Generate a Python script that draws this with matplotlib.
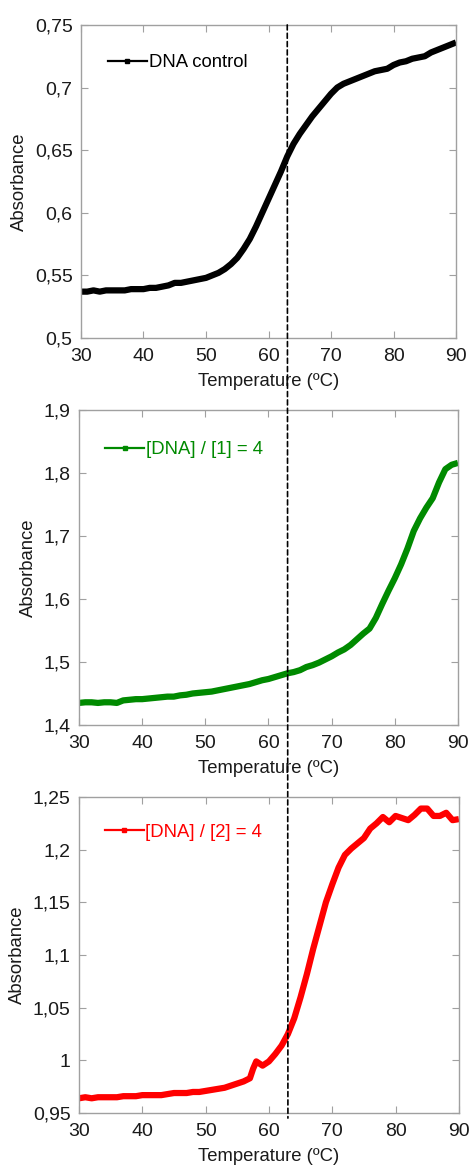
import numpy as np
import matplotlib
matplotlib.use("Agg")
import matplotlib.pyplot as plt
from matplotlib.lines import Line2D
from matplotlib.patches import ConnectionPatch
from matplotlib.ticker import FuncFormatter, MultipleLocator

plt.rcParams['font.family'] = ['Liberation Sans', 'DejaVu Sans']

# melting curves, absorbance vs temperature (ºC)
temp_ctrl = list(range(30, 91))
abs_ctrl = [0.537, 0.537, 0.538, 0.537, 0.538, 0.538, 0.538, 0.538, 0.539, 0.539,
            0.539, 0.540, 0.540, 0.541, 0.542, 0.544, 0.544, 0.545, 0.546, 0.547,
            0.548, 0.550, 0.552, 0.555, 0.559, 0.564, 0.571, 0.579, 0.589, 0.600,
            0.611, 0.622, 0.633, 0.645, 0.655, 0.663, 0.670, 0.677, 0.683, 0.689,
            0.695, 0.700, 0.703, 0.705, 0.707, 0.709, 0.711, 0.713, 0.714, 0.715,
            0.718, 0.720, 0.721, 0.723, 0.724, 0.725, 0.728, 0.730, 0.732, 0.734,
            0.736]

temp_1 = list(range(30, 91))
abs_1 = [1.435, 1.436, 1.436, 1.435, 1.436, 1.436, 1.435, 1.439, 1.440, 1.441,
         1.441, 1.442, 1.443, 1.444, 1.445, 1.445, 1.447, 1.448, 1.450, 1.451,
         1.452, 1.453, 1.455, 1.457, 1.459, 1.461, 1.463, 1.465, 1.468, 1.471,
         1.473, 1.476, 1.479, 1.482, 1.484, 1.487, 1.492, 1.495, 1.499, 1.504,
         1.509, 1.515, 1.520, 1.527, 1.536, 1.545, 1.553, 1.570, 1.592, 1.613,
         1.633, 1.655, 1.680, 1.708, 1.728, 1.745, 1.760, 1.785, 1.806, 1.813,
         1.816]

temp_2 = list(range(30, 58)) + [57.5, 58, 58.5] + list(range(59, 91))
abs_2 = [0.964, 0.965, 0.964, 0.965, 0.965, 0.965, 0.965, 0.966, 0.966, 0.966,
         0.967, 0.967, 0.967, 0.967, 0.968, 0.969, 0.969, 0.969, 0.970, 0.970,
         0.971, 0.972, 0.973, 0.974, 0.976, 0.978, 0.980, 0.983,
         0.992, 0.999, 0.997,
         0.995, 0.999, 1.006, 1.014, 1.025, 1.040, 1.060, 1.082, 1.106, 1.128,
         1.150, 1.167, 1.183, 1.195, 1.201, 1.206, 1.211, 1.220, 1.225, 1.231,
         1.226, 1.232, 1.230, 1.228, 1.233, 1.239, 1.239, 1.232, 1.232, 1.235,
         1.228, 1.229]

panels = [
    (temp_ctrl, abs_ctrl, 'black', 'DNA control', (0.5, 0.75), 0.05),
    (temp_1, abs_1, '#008a00', '[DNA] / [1] = 4', (1.4, 1.9), 0.1),
    (temp_2, abs_2, '#ff0000', '[DNA] / [2] = 4', (0.95, 1.25), 0.05),
]
t_melt = 63

rects = [[0.1727, 0.7099, 0.7996, 0.2687],
         [0.1684, 0.3777, 0.8081, 0.2704],
         [0.1684, 0.0446, 0.8100, 0.2713]]
leg_pos = [(0.072, 0.879), (0.069, 0.873), (0.068, 0.889)]

comma = FuncFormatter(lambda v, p: f'{round(v, 3):g}'.replace('.', ','))

fig = plt.figure(figsize=(4.69, 11.65), dpi=100)
axes = []
for (t, a, col, lab, ylim, step), r, lp in zip(panels, rects, leg_pos):
    ax = fig.add_axes(r)
    ax.plot(t, a, color=col, lw=4.5, solid_joinstyle='round', solid_capstyle='butt')
    ax.set_xlim(30, 90)
    ax.set_ylim(*ylim)
    ax.xaxis.set_major_locator(MultipleLocator(10))
    ax.yaxis.set_major_locator(MultipleLocator(step))
    ax.yaxis.set_major_formatter(comma)
    ax.tick_params(direction='in', top=True, right=True, length=5, width=0.8,
                   color='#a0a0a0', labelsize=14, labelcolor='#1a1a1a')
    ax.tick_params(axis='y', pad=6)
    ax.tick_params(axis='x', pad=7)
    for s in ax.spines.values():
        s.set_color('#a0a0a0')
        s.set_linewidth(1.0)
    ax.set_xlabel('Temperature (ºC)', fontsize=13.3, color='#1a1a1a', labelpad=6)
    ax.set_ylabel('Absorbance', fontsize=13.3, color='#1a1a1a', labelpad=5)
    h = Line2D([], [], color=col, lw=1.6, marker='s', ms=3)
    ax.legend([h], [lab], loc='center left', bbox_to_anchor=lp, frameon=False,
              borderpad=0, borderaxespad=0, handlelength=2.1, handletextpad=0.1,
              fontsize=13.3, labelcolor=col)
    axes.append(ax)

# dashed line at the melting temperature of the control through all panels
con = ConnectionPatch(xyA=(t_melt, 1.0), coordsA=axes[0].get_xaxis_transform(),
                      xyB=(t_melt, -0.016), coordsB=axes[2].get_xaxis_transform(),
                      color='black', lw=1.2, linestyle=(0, (3, 2)), zorder=10)
fig.add_artist(con)

fig.savefig('out.png', dpi=100)
